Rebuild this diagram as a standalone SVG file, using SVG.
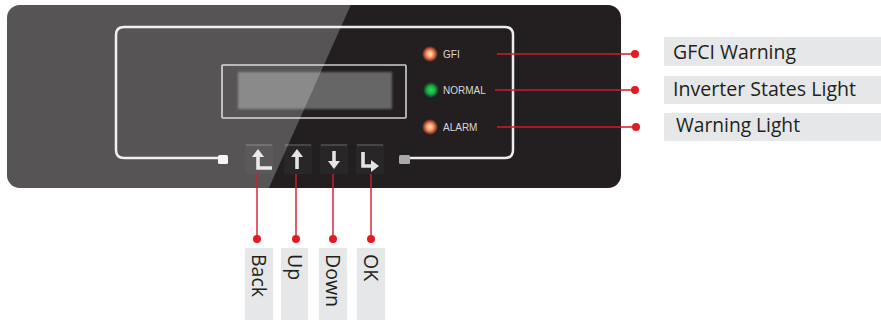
<svg xmlns="http://www.w3.org/2000/svg" width="881" height="320" viewBox="0 0 881 320">
<style>
.frame{fill:none;stroke:#ececec;stroke-width:2.5}
.ledtxt{font-family:"Liberation Sans",Arial,sans-serif;font-size:10px;fill:#d9d9d9}
.lbl{font-family:"Open Sans","Liberation Sans",sans-serif;font-size:19.5px;fill:#231f20}
.box{fill:#e6e7e8}
.red{stroke:#d41a2b;stroke-width:1.4;fill:none}
.dot{fill:#e31b23}
.arrow{fill:none;stroke:#e4e4e4;stroke-width:3.6}
.arrowhead{fill:#e4e4e4}
.btn{fill:#ffffff;fill-opacity:0.03}
.btntop{stroke:#ffffff;stroke-opacity:0.2;stroke-width:1.5}
</style>
<defs>
<clipPath id="panelClip"><rect x="7" y="5" width="614" height="183" rx="13"/></clipPath>
<radialGradient id="orange" cx="0.5" cy="0.5" r="0.5">
<stop offset="0" stop-color="#ffe4cc"/>
<stop offset="0.4" stop-color="#ffa070"/>
<stop offset="0.7" stop-color="#ec6a3e" stop-opacity="0.75"/>
<stop offset="1" stop-color="#e8603a" stop-opacity="0"/>
</radialGradient>
<radialGradient id="green" cx="0.5" cy="0.5" r="0.5">
<stop offset="0" stop-color="#35d865"/>
<stop offset="0.55" stop-color="#12ab40"/>
<stop offset="0.78" stop-color="#0b8a33" stop-opacity="0.6"/>
<stop offset="1" stop-color="#0b8a33" stop-opacity="0"/>
</radialGradient>
<filter id="blur" x="-10%" y="-20%" width="120%" height="140%"><feGaussianBlur stdDeviation="1.3"/></filter>
</defs>

<g id="panel">
<rect x="7" y="5" width="614" height="183" rx="13" fill="#231f20"/>
</g>

<g id="lcd">
<rect x="222" y="65" width="184" height="53" fill="none" stroke="#d0d0d0" stroke-width="1.6" rx="1"/>
<rect x="238" y="72" width="154" height="37" fill="#666666" filter="url(#blur)"/>
</g>

<g id="frame">
<path class="frame" d="M218,158 H124 Q116,158 116,150 V35 Q116,27 124,27 H505 Q513,27 513,35 V150 Q513,158 505,158 H409"/>
<rect x="218" y="155" width="10" height="9" rx="1.5" fill="#f2f2f2"/>
<rect x="399" y="155" width="11" height="9" rx="1.5" fill="#a9a9a9"/>
</g>

<g id="led-gfi">
<circle cx="430" cy="54" r="8" fill="url(#orange)"/>
<text class="ledtxt" x="443" y="58">GFI</text>
</g>
<g id="led-normal">
<circle cx="431" cy="90" r="8" fill="url(#green)"/>
<text class="ledtxt" x="443" y="94">NORMAL</text>
</g>
<g id="led-alarm">
<circle cx="430" cy="127" r="8" fill="url(#orange)"/>
<text class="ledtxt" x="443" y="131">ALARM</text>
</g>

<g id="btn-back">
<rect class="btn" x="245" y="144" width="28" height="30"/>
<line class="btntop" x1="246" y1="145" x2="272" y2="145"/>
<path class="arrow" d="M258,156 V168 H272"/>
<path class="arrowhead" d="M258,149 L264,157 H252 Z"/>
</g>
<g id="btn-up">
<rect class="btn" x="284" y="144" width="28" height="30"/>
<line class="btntop" x1="285" y1="145" x2="311" y2="145"/>
<path class="arrow" d="M297,156 V169"/>
<path class="arrowhead" d="M297,149 L303,157 H291 Z"/>
</g>
<g id="btn-down">
<rect class="btn" x="320" y="144" width="28" height="30"/>
<line class="btntop" x1="321" y1="145" x2="347" y2="145"/>
<path class="arrow" d="M334,151 V162"/>
<path class="arrowhead" d="M334,169 L340,161 H328 Z"/>
</g>
<g id="btn-ok">
<rect class="btn" x="356" y="144" width="28" height="30"/>
<line class="btntop" x1="357" y1="145" x2="383" y2="145"/>
<path class="arrow" d="M363,152 V166 H372"/>
<path class="arrowhead" d="M379,166 L371,160 V172 Z"/>
</g>

<g id="glass" clip-path="url(#panelClip)">
<polygon points="0,0 353,0 268,190 0,190" fill="#ffffff" fill-opacity="0.24"/>
</g>

<g id="label-gfci">
<rect class="box" x="664" y="37" width="217" height="29"/>
<text class="lbl" x="673" y="59" textLength="123" lengthAdjust="spacingAndGlyphs">GFCI Warning</text>
</g>
<g id="label-states">
<rect class="box" x="664" y="76" width="217" height="28"/>
<text class="lbl" x="673" y="96" textLength="183" lengthAdjust="spacingAndGlyphs">Inverter States Light</text>
</g>
<g id="label-warning">
<rect class="box" x="664" y="113" width="217" height="28"/>
<text class="lbl" x="676" y="132" textLength="124" lengthAdjust="spacingAndGlyphs">Warning Light</text>
</g>

<g id="label-back">
<rect class="box" x="245" y="248" width="28" height="72"/>
<text class="lbl" transform="translate(252,254) rotate(90)">Back</text>
</g>
<g id="label-up">
<rect class="box" x="281" y="248" width="27" height="72"/>
<text class="lbl" transform="translate(288,254) rotate(90)">Up</text>
</g>
<g id="label-down">
<rect class="box" x="319" y="248" width="28" height="72"/>
<text class="lbl" transform="translate(326,254) rotate(90)">Down</text>
</g>
<g id="label-ok">
<rect class="box" x="357" y="248" width="28" height="72"/>
<text class="lbl" transform="translate(364,254) rotate(90)">OK</text>
</g>

<g id="connectors">
<line class="red" x1="497" y1="54" x2="635" y2="54"/>
<circle class="dot" cx="635" cy="54" r="4"/>
<line class="red" x1="495" y1="90" x2="635" y2="90"/>
<circle class="dot" cx="635" cy="90" r="4"/>
<line class="red" x1="497" y1="127" x2="636" y2="127"/>
<circle class="dot" cx="636" cy="127" r="4"/>
<line class="red" x1="257" y1="174" x2="257" y2="239"/>
<circle class="dot" cx="257" cy="239" r="4"/>
<line class="red" x1="296" y1="174" x2="296" y2="239"/>
<circle class="dot" cx="296" cy="239" r="4"/>
<line class="red" x1="333" y1="174" x2="333" y2="239"/>
<circle class="dot" cx="333" cy="239" r="4"/>
<line class="red" x1="371" y1="174" x2="371" y2="239"/>
<circle class="dot" cx="371" cy="239" r="4"/>
</g>
</svg>
